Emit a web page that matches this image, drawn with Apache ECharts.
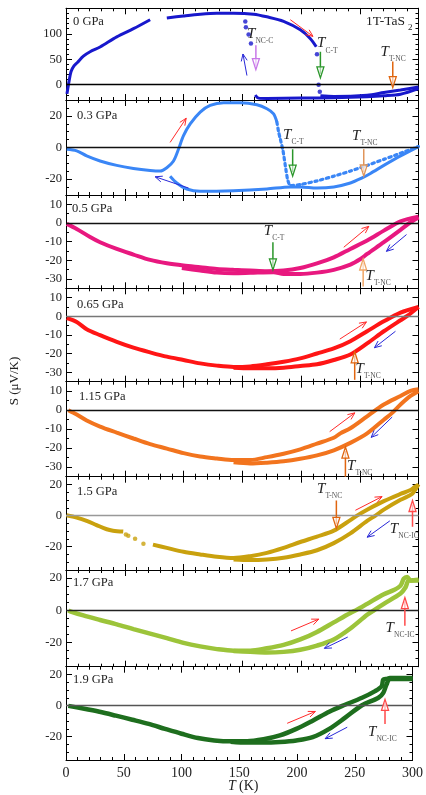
<!DOCTYPE html>
<html><head><meta charset="utf-8">
<script src="https://cdn.jsdelivr.net/npm/echarts@6/dist/echarts.min.js"></script>
<style>html,body{margin:0;padding:0;background:#fff}#c{width:426px;height:795px}</style>
</head><body><div id="c"></div>
<script>
// ---------- DATA ([T (K), S (uV/K)]) ----------
// 0 GPa
const heat0a = [[0.8,-18],[1.5,-8],[2.6,7],[4.3,26],[6.8,37],[9.7,43.6],[14.8,56],[20.5,64.7],[29,74],[43.2,94],[57.4,110],[71.6,127.6]];
const heat0b = [[85.8,131],[100,135],[114.2,138.5],[128.4,140.4],[142.6,140.4],[159.7,138.5],[171,133.3],[185.2,124.4],[199.4,107.7],[208,90.4],[213,74.4]];
const jump0Heat = [[213.6,60],[215,0],[216,-14]];
const heat0hi = [[216.5,-21.8],[227.9,-23],[256.3,-20.5],[270.5,-15.4],[284.7,-10.3],[300,-4.5]];
const cool0 = [[300,-7.7],[284.7,-18.6],[270.5,-21.8],[256.3,-23.7],[227.9,-25.6],[199.4,-26.3],[171,-26.9],[163.9,-26.3],[161,-20.5]];
const jump0Cool = [[157.4,80.8],[155.4,98.7],[153.1,112.8],[152.6,124]];
// 0.3 GPa
const heat1 = [[0.6,-1.1],[9.1,-2.1],[17.6,-5.3],[29,-8.5],[43.2,-11.3],[57.4,-13.2],[71.6,-14.5],[80.1,-14.9],[85.8,-12.8],[91.5,-8.5],[95.7,-1.1],[100,7.5],[105.7,14.9],[114.2,22.4],[122.7,26.6],[134.1,28.3],[148.3,28.3],[162.5,27],[171,24.5],[176.7,21.3],[179.5,16]];
const heat1drop = [[179.5,16],[181,9.6],[182.4,5.3],[184.7,-2.1],[186.7,-11.7],[188.6,-20.2],[190.9,-24.1],[199.4,-23.4],[213.6,-21.1],[227.9,-18.1],[242,-14.9],[256.3,-11.3],[270.5,-7.5],[284.7,-3.6],[300,0.6]];
const cool1 = [[300,0.6],[284.7,-5.3],[270.5,-11.3],[259.1,-16.4],[252,-19.2],[242,-22.4],[227.9,-24.9],[213.6,-25.6],[199.4,-24.9],[190.9,-24.9],[171,-26.2],[142.6,-27.3],[114.2,-27.7],[102.8,-26.2],[94.3,-22.4],[88.6,-18.1]];
// 0.5 GPa
const heat2 = [[0.6,-0.5],[9.1,-3.2],[20.5,-7.5],[29,-10.3],[43.2,-13.9],[57.4,-16.9],[71.6,-19.8],[85.8,-21.6],[100,-22.8],[114.2,-23.7],[128.4,-24.6],[142.6,-25.1],[156.8,-25.5],[171,-25.9],[185.2,-25.5],[199.4,-24.1],[213.6,-21.6],[227.9,-18.4],[242,-13.9],[256.3,-9.4],[270.5,-4.1],[284.7,0.9],[300,3.4]];
const cool2 = [[300,3],[293.2,0.4],[284.7,-3.7],[270.5,-10.3],[256.3,-16.6],[250.6,-19.3],[242,-22.3],[227.9,-25.1],[213.6,-26.6],[199.4,-27.3],[185.2,-27.3],[176.7,-26.4],[156.8,-26.7],[142.6,-26.9],[128.4,-26.6],[114.2,-25.5],[98.6,-24.1]];
// 0.65 GPa
const heat3 = [[0.6,-0.9],[9.1,-3],[17.6,-6.9],[29,-10.1],[43.2,-13.7],[57.4,-16.8],[71.6,-19.3],[85.8,-21.6],[100,-23.4],[114.2,-25.2],[128.4,-26.4],[142.6,-27.1],[156.8,-26.8],[171,-25.7],[185.2,-24.3],[199.4,-22.5],[213.6,-19.9],[227.9,-17.2],[242,-13.3],[256.3,-8],[270.5,-2.7],[284.7,2],[300,5]];
const cool3 = [[300,5],[290.4,0.2],[284.7,-2.1],[270.5,-8],[256.3,-14.5],[242,-20.4],[227.9,-23.4],[213.6,-25.7],[199.4,-26.6],[185.2,-27.5],[171,-27.8],[156.8,-27.8],[142.6,-27.5]];
// 1.15 GPa
const heat4 = [[2,0],[9.1,-2.3],[17.6,-5.4],[29,-8.6],[43.2,-11.8],[57.4,-14.9],[71.6,-17.9],[85.8,-20.2],[100,-22.6],[114.2,-24.4],[128.4,-25.4],[142.6,-26.2],[156.8,-26.2],[171,-24.7],[185.2,-22.9],[199.4,-20.6],[213.6,-17.6],[227.9,-14.5],[233.5,-12.2],[242,-9.5],[256.3,-3.2],[270.5,3],[284.7,7.5],[293.2,10.2],[300,11]];
const cool4 = [[300,10],[293.2,7.5],[284.7,3],[277.6,-1.4],[270.5,-5],[256.3,-12.2],[242,-17.2],[227.9,-21.1],[213.6,-23.8],[199.4,-25.6],[185.2,-26.9],[171,-27.6],[156.8,-28],[142.6,-27.4]];
// 1.5 GPa
const heat5a = [[0.5,0.2],[9.1,-1.3],[17.6,-3.4],[26,-6.1],[34.7,-8.8],[40,-9.7],[48.7,-10.3]];
const dots5 = [[51,-12.2],[53,-13],[58.8,-14.9],[65.9,-18.1]];
const heat5b = [[74,-18.7],[85.8,-20.8],[100,-23.3],[114.2,-25],[128.4,-26.5],[142.6,-27.3],[156.8,-26.1],[171,-24],[185.2,-20.8],[199.4,-17],[213.6,-13.5],[227.9,-9.7],[242,-2.9],[247.7,0],[256.3,3.8],[270.5,9.3],[284.7,13.9],[293.2,16.4],[297,18.5],[300,19.6]];
const cool5 = [[300,20.2],[297,16.4],[294.6,13.9],[284.7,10.1],[270.5,3.8],[263.4,0],[256.3,-3.4],[242,-11.4],[227.9,-17.7],[213.6,-22.3],[199.4,-25],[185.2,-27.1],[171,-28.2],[156.8,-28.6],[142.6,-28.2]];
// 1.7 GPa
const heat6 = [[2,0],[3.5,-0.6],[14.8,-3.2],[29,-6],[43.2,-8.7],[57.4,-11.7],[71.6,-14.5],[85.8,-17.3],[100,-20.2],[114.2,-22.4],[128.4,-24.1],[142.6,-25.1],[156.8,-25.1],[171,-23.6],[185.2,-21.5],[199.4,-18.1],[213.6,-13.4],[227.9,-7.5],[242,-1.7],[247.7,0.4],[256.3,4],[270.5,10],[279,12.6],[284.7,15.3],[287.5,19.6],[290.4,20.7],[293.2,18.5],[300,19]];
const cool6 = [[300,18.5],[291.8,18.5],[289,14.3],[284.7,10.4],[270.5,4],[262,0],[256.3,-2.8],[242,-11.3],[227.9,-18.1],[213.6,-21.9],[199.4,-24.5],[185.2,-25.8],[171,-26.2],[156.8,-25.8],[142.6,-25.3]];
// 1.9 GPa
const heat7 = [[2,-0.2],[14.8,-1.9],[29,-4],[43.2,-6.5],[57.4,-9.1],[71.6,-11.8],[85.8,-15],[100,-18.1],[114.2,-20.9],[128.4,-22.4],[142.6,-23],[156.8,-23],[171,-21.7],[185.2,-19.2],[199.4,-15],[213.6,-9.7],[227.9,-4],[239.2,-0.2],[256.3,5],[267.6,9.3],[273.3,12.4],[274.7,16.7],[277.5,17.1],[280.4,17.7],[300,17.7]];
const cool7 = [[300,17.1],[280.4,17.1],[277.5,13.5],[274.7,8.2],[270.5,5],[256.3,0.2],[242,-7.6],[227.9,-15],[213.6,-20.3],[199.4,-22.4],[185.2,-23.4],[171,-23.8],[156.8,-23.8],[142.6,-23.2]];

// tick label values
const xTicks = [0,50,100,150,200,250,300];
const yMins = [-30,-30,-35,-35,-35,-35,-35,-35];
const yMaxs = [150,30,15,15,15,25,25,25];
const yLabels = [[0,50,100],[-20,0,20],[-30,-20,-10,0,10],[-30,-20,-10,0,10],[-30,-20,-10,0,10],[-20,0,20],[-20,0,20],[-20,0,20]];
const pressures = ['0 GPa','0.3 GPa','0.5 GPa','0.65 GPa','1.15 GPa','1.5 GPa','1.7 GPa','1.9 GPa'];

// annotations (data coordinates)
const RED='#ff2a2a', BLUE='#2828d8', VIOLET='#c878e8', GREEN='#2a962a', ORANGE='#e0650f', TAN='#e0955a', LORANGE='#f0a565', HRED='#ff4a4a';
const ann = [
 [ {k:'dir',c:RED,f:[190.9,127.6],t:[210.2,94.9]}, {k:'dir',c:BLUE,f:[154,18],t:[150.6,60.3]},
   {k:'hol',c:VIOLET,f:[161.6,77.6],t:[161.6,29.5]}, {k:'hol',c:GREEN,f:[216.5,64.7],t:[216.5,13.5]},
   {k:'hol',c:ORANGE,f:[278.1,45.5],t:[278.1,-5.8]},
   {k:'lab',at:[154,100],s:'NC-C'}, {k:'lab',at:[213.6,80.8],s:'C-T'}, {k:'lab',at:[267.6,64.7],s:'T-NC'} ],
 [ {k:'dir',c:RED,f:[88.6,3.2],t:[102.3,18.5]}, {k:'dir',c:BLUE,f:[104.3,-25.6],t:[75.9,-18.5]},
   {k:'hol',c:GREEN,f:[192.9,-1.1],t:[192.9,-18.1]}, {k:'hol',c:TAN,f:[253.4,-1],t:[253.4,-18]},
   {k:'lab',at:[184.7,7.9],s:'C-T'}, {k:'lab',at:[243.5,7],s:'T-NC'} ],
 [ {k:'dir',c:RED,f:[236.4,-13],t:[257.7,-1.8]}, {k:'dir',c:BLUE,f:[289.8,-6.2],t:[272.7,-15.2]},
   {k:'hol',c:GREEN,f:[176.1,-10.3],t:[176.1,-25.1]}, {k:'hol',c:LORANGE,f:[252.9,-34],t:[252.9,-19.3]},
   {k:'lab',at:[168.2,-4.5],s:'C-T'}, {k:'lab',at:[254.8,-28.2],s:'T-NC'} ],
 [ {k:'dir',c:RED,f:[233,-12.2],t:[255.7,-3]}, {k:'dir',c:BLUE,f:[280.4,-8],t:[262.5,-16.8]},
   {k:'hol',c:ORANGE,f:[245.7,-34],t:[245.7,-19]}, {k:'lab',at:[246.3,-28.4],s:'T-NC'} ],
 [ {k:'dir',c:RED,f:[224.4,-11.3],t:[245.8,-1.4]}, {k:'dir',c:BLUE,f:[277.6,-3.6],t:[259.7,-14.3]},
   {k:'hol',c:ORANGE,f:[237.8,-35],t:[237.8,-19.4]}, {k:'lab',at:[239.2,-29.2],s:'T-NC'} ],
 [ {k:'lab',at:[213.6,17],s:'T-NC'}, {k:'hol',c:ORANGE,f:[230.1,9.7],t:[230.1,-8.2]},
   {k:'dir',c:RED,f:[246.3,3.4],t:[269,12.2]}, {k:'dir',c:BLUE,f:[275.6,-3.4],t:[256.3,-13.9]},
   {k:'lab',at:[275.5,-8.6],s:'NC-IC'}, {k:'hol',c:HRED,f:[294.9,-7.2],t:[294.9,9.7]} ],
 [ {k:'dir',c:RED,f:[191.5,-12.8],t:[215.1,-5.5]}, {k:'dir',c:BLUE,f:[239.8,-16.6],t:[219.9,-23.6]},
   {k:'lab',at:[271.9,-10.9],s:'NC-IC'}, {k:'hol',c:HRED,f:[288.4,-9.6],t:[288.4,7.9]} ],
 [ {k:'dir',c:RED,f:[191.5,-11.4],t:[215.9,-3.8]}, {k:'dir',c:BLUE,f:[243.5,-13.9],t:[224.4,-21.3]},
   {k:'lab',at:[261.4,-17.1],s:'NC-IC'}, {k:'hol',c:HRED,f:[276.2,-11.8],t:[276.2,4]} ]
];

// ---------- STYLE / LAYOUT ----------
const FONT = '"Liberation Serif", "DejaVu Serif", serif';
const tops = [8.3,100,195,288.3,381.7,476.7,570,666.7];
const bots = [100,195,288.3,381.7,476.7,570,666.7,760];
const minorStep = [10,5,5,5,5,5,5,5];
const zeroCol = ['#000','#111','#111','#777','#111','#999','#222','#555'];
const panelCurves = [
 {color:'#1818cc', w:3, lines:[heat0a,heat0b,heat0hi,cool0], dots:[jump0Heat,jump0Cool]},
 {color:'#3a86f6', w:3, lines:[heat1,cool1], dotted:[heat1drop]},
 {color:'#e8187f', w:4, lines:[heat2,cool2]},
 {color:'#ff1515', w:4, lines:[heat3,cool3]},
 {color:'#f2741e', w:4, lines:[heat4,cool4]},
 {color:'#c9a10e', w:4, lines:[heat5a,heat5b,cool5], dots:[dots5]},
 {color:'#9cc43a', w:4.5, lines:[heat6,cool6]},
 {color:'#1e6e1e', w:4.5, lines:[heat7,cool7]}
];
const labelX = [73,77,72,77,79,77,73,73];
const labelY = [22,116,209,305,397,492,583,680];

const grids=[], xAxes=[], yAxes=[], series=[], graphics=[];
for (let i=0;i<8;i++){
  grids.push({left:66, width:352.5, top:tops[i], height:bots[i]-tops[i]});
  const last = i===7;
  const xBase = {type:'value', gridIndex:i, min:0, max:300, interval:50,
    axisLine:{show:true,onZero:false,lineStyle:{color:'#000',width:1}},
    axisTick:{show:true,inside:true,length:6,lineStyle:{color:'#000'}},
    minorTick:{show:true,splitNumber:5,length:3,lineStyle:{color:'#000'}},
    splitLine:{show:false}, minorSplitLine:{show:false}};
  xAxes.push(Object.assign({}, xBase, {position:'bottom',
    axisLabel:{show:last, color:'#222', fontFamily:FONT, fontSize:14, margin:6, customValues:xTicks}}));
  xAxes.push(Object.assign({}, xBase, {position:'top', axisLabel:{show:false}}));
  const yb = {type:'value', gridIndex:i, min:yMins[i], max:yMaxs[i], splitLine:{show:false},
    axisLine:{show:true,lineStyle:{color:'#000',width:1}}};
  yAxes.push(Object.assign({}, yb, {position:'left', interval:minorStep[i],
    axisTick:{show:true,inside:true,length:3,lineStyle:{color:'#000'}}, axisLabel:{show:false}}));
  yAxes.push(Object.assign({}, yb, {position:'left',
    axisTick:{show:true,inside:true,length:6,customValues:yLabels[i],lineStyle:{color:'#000'}},
    axisLabel:{show:true,customValues:yLabels[i],color:'#222',fontFamily:FONT,fontSize:12.5,margin:4}}));
  yAxes.push(Object.assign({}, yb, {position:'right', interval:minorStep[i],
    axisTick:{show:true,inside:true,length:3,lineStyle:{color:'#000'}}, axisLabel:{show:false}}));
  yAxes.push(Object.assign({}, yb, {position:'right',
    axisTick:{show:true,inside:true,length:6,customValues:yLabels[i],lineStyle:{color:'#000'}},
    axisLabel:{show:false}}));
  const xi=2*i, yi=4*i, pc=panelCurves[i];
  pc.lines.forEach((d,j)=>{
    const s = {type:'line', xAxisIndex:xi, yAxisIndex:yi, data:d, showSymbol:false, smooth:0.3,
      lineStyle:{color:pc.color,width:pc.w}, itemStyle:{color:pc.color}, z:3, silent:true, animation:false};
    if (j===0) s.markLine = {silent:true, symbol:'none', animation:false, label:{show:false},
      lineStyle:{color:zeroCol[i],width:1.4,type:'solid'}, data:[{yAxis:0}]};
    series.push(s);
  });
  (pc.dotted||[]).forEach(d=>series.push({type:'line', xAxisIndex:xi, yAxisIndex:yi, data:d, showSymbol:false, smooth:0.2,
      lineStyle:{color:pc.color,width:3.2,type:[2.5,3.5],cap:'round'}, z:3, silent:true, animation:false}));
  (pc.dots||[]).forEach(d=>series.push({type:'scatter', xAxisIndex:xi, yAxisIndex:yi, data:d, symbolSize:4.5,
      itemStyle:{color:pc.color}, z:3, silent:true, animation:false}));
  const list = ann[i];
  series.push({type:'custom', xAxisIndex:xi, yAxisIndex:yi, silent:true, animation:false, z:5, clip:false,
    data:list.map(a=>a.at||a.t),
    renderItem:function(params, api){
      const a = list[params.dataIndex];
      if (a.k==='lab'){
        const p = api.coord(a.at);
        return {type:'group', children:[
          {type:'text', x:p[0], y:p[1], style:{text:'T', fontFamily:FONT, fontStyle:'italic', fontSize:15, fill:'#222', align:'left', verticalAlign:'middle'}},
          {type:'text', x:p[0]+8.5, y:p[1]+7, style:{text:a.s, fontFamily:FONT, fontSize:7.5, fill:'#555', align:'left', verticalAlign:'middle'}}
        ]};
      }
      const p1=api.coord(a.f), p2=api.coord(a.t);
      const dx=p2[0]-p1[0], dy=p2[1]-p1[1], L=Math.hypot(dx,dy)||1, ux=dx/L, uy=dy/L, px=-uy, py=ux;
      if (a.k==='dir'){
        const h=7, w=3;
        return {type:'group', children:[
          {type:'line', shape:{x1:p1[0],y1:p1[1],x2:p2[0],y2:p2[1]}, style:{stroke:a.c,lineWidth:1}},
          {type:'polyline', shape:{points:[[p2[0]-h*ux+w*px,p2[1]-h*uy+w*py],[p2[0],p2[1]],[p2[0]-h*ux-w*px,p2[1]-h*uy-w*py]]}, style:{stroke:a.c,lineWidth:1,fill:null}}
        ]};
      }
      const h=11, w=3.5, bx=p2[0]-h*ux, by=p2[1]-h*uy;
      return {type:'group', children:[
        {type:'line', shape:{x1:p1[0],y1:p1[1],x2:p2[0]-4*ux,y2:p2[1]-4*uy}, style:{stroke:a.c,lineWidth:1.5}},
        {type:'polygon', shape:{points:[[p2[0],p2[1]],[bx+w*px,by+w*py],[bx-w*px,by-w*py]]}, style:{stroke:a.c,fill:'rgba(255,255,255,0.6)',lineWidth:1.3}}
      ]};
    }});
  graphics.push({type:'text', x:labelX[i], y:labelY[i], z:10, style:{text:pressures[i], fontFamily:FONT, fontSize:12.5, fill:'#222', align:'left', verticalAlign:'middle'}});
}
graphics.push({type:'text', x:366, y:21, z:10, style:{text:'1T-TaS', fontFamily:FONT, fontSize:13.5, fill:'#222', align:'left', verticalAlign:'middle'}});
graphics.push({type:'text', x:408, y:28, z:10, style:{text:'2', fontFamily:FONT, fontSize:9, fill:'#222', align:'left', verticalAlign:'middle'}});
graphics.push({type:'text', x:15, y:381, rotation:Math.PI/2, z:10, style:{text:'S (μV/K)', fontFamily:FONT, fontSize:13, fill:'#222', align:'center', verticalAlign:'middle'}});
graphics.push({type:'text', x:228, y:786, z:10, style:{text:'T', fontFamily:FONT, fontStyle:'italic', fontSize:14, fill:'#222', align:'left', verticalAlign:'middle'}});
graphics.push({type:'text', x:239, y:786, z:10, style:{text:'(K)', fontFamily:FONT, fontSize:14, fill:'#222', align:'left', verticalAlign:'middle'}});

const chart = echarts.init(document.getElementById('c'), null, {renderer:'canvas'});
chart.setOption({animation:false, backgroundColor:'#fff', grid:grids, xAxis:xAxes, yAxis:yAxes, series:series, graphic:graphics});
</script></body></html>
